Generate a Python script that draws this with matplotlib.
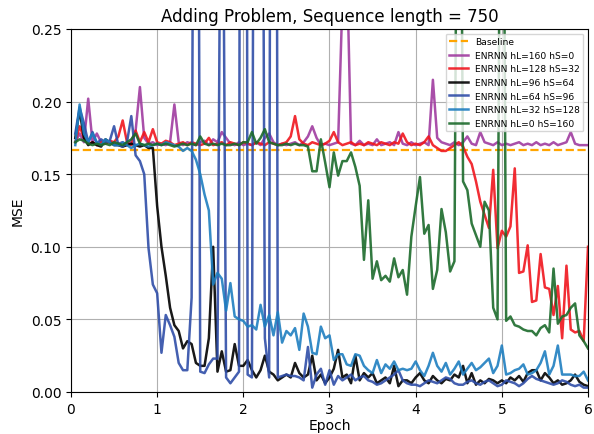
import numpy as np
import matplotlib
matplotlib.use("Agg")
import matplotlib.pyplot as plt

epochs = [round(0.05 * k, 2) for k in range(1, 121)]
baseline = 0.1667

purple = [0.172, 0.178, 0.172, 0.202, 0.172, 0.178, 0.172, 0.171, 0.172, 0.171,
          0.171, 0.172, 0.170, 0.173, 0.180, 0.210, 0.175, 0.171, 0.172, 0.170,
          0.171, 0.170, 0.172, 0.198, 0.172, 0.170, 0.172, 0.171, 0.170, 0.172,
          0.173, 0.170, 0.174, 0.172, 0.179, 0.175, 0.171, 0.170, 0.172, 0.170,
          0.171, 0.170, 0.172, 0.170, 0.175, 0.178, 0.172, 0.170, 0.171, 0.170,
          0.171, 0.172, 0.170, 0.172, 0.176, 0.183, 0.175, 0.170, 0.171, 0.170,
          0.171, 0.172, 0.270, 0.300, 0.171, 0.170, 0.173, 0.170, 0.171, 0.170,
          0.174, 0.170, 0.171, 0.172, 0.170, 0.179, 0.171, 0.170, 0.172, 0.170,
          0.171, 0.172, 0.170, 0.215, 0.175, 0.172, 0.171, 0.170, 0.172, 0.170,
          0.172, 0.176, 0.171, 0.170, 0.179, 0.172, 0.171, 0.170, 0.172, 0.170,
          0.171, 0.170, 0.171, 0.172, 0.170, 0.171, 0.170, 0.172, 0.170, 0.171,
          0.170, 0.172, 0.170, 0.171, 0.172, 0.179, 0.171, 0.170, 0.170, 0.170]

red = [0.172, 0.183, 0.175, 0.171, 0.172, 0.170, 0.172, 0.171, 0.173, 0.172,
       0.176, 0.187, 0.172, 0.170, 0.180, 0.172, 0.179, 0.172, 0.181, 0.172,
       0.171, 0.173, 0.172, 0.170, 0.171, 0.172, 0.170, 0.172, 0.171, 0.170,
       0.171, 0.175, 0.170, 0.171, 0.172, 0.170, 0.172, 0.171, 0.170, 0.172,
       0.171, 0.170, 0.172, 0.171, 0.170, 0.172, 0.171, 0.170, 0.171, 0.172,
       0.176, 0.190, 0.174, 0.171, 0.170, 0.172, 0.171, 0.170, 0.171, 0.173,
       0.179, 0.172, 0.170, 0.171, 0.172, 0.170, 0.171, 0.170, 0.172, 0.171,
       0.170, 0.172, 0.171, 0.170, 0.172, 0.171, 0.178, 0.172, 0.170, 0.171,
       0.170, 0.172, 0.176, 0.170, 0.168, 0.166, 0.166, 0.168, 0.170, 0.172,
       0.169, 0.162, 0.157, 0.145, 0.131, 0.122, 0.113, 0.153, 0.099, 0.111,
       0.107, 0.114, 0.154, 0.082, 0.083, 0.101, 0.062, 0.063, 0.095, 0.072,
       0.071, 0.053, 0.073, 0.037, 0.087, 0.043, 0.041, 0.042, 0.035, 0.100]

black = [0.175, 0.194, 0.175, 0.170, 0.172, 0.170, 0.169, 0.174, 0.172, 0.170,
         0.170, 0.169, 0.170, 0.171, 0.170, 0.169, 0.170, 0.168, 0.168, 0.128,
         0.100, 0.080, 0.058, 0.046, 0.042, 0.030, 0.035, 0.033, 0.020, 0.018,
         0.018, 0.037, 0.100, 0.014, 0.028, 0.014, 0.015, 0.033, 0.018, 0.018,
         0.022, 0.015, 0.010, 0.015, 0.025, 0.014, 0.012, 0.008, 0.010, 0.012,
         0.010, 0.020, 0.013, 0.010, 0.012, 0.025, 0.008, 0.012, 0.006, 0.010,
         0.016, 0.029, 0.010, 0.012, 0.006, 0.025, 0.008, 0.013, 0.010, 0.013,
         0.006, 0.008, 0.010, 0.006, 0.018, 0.004, 0.008, 0.008, 0.006, 0.010,
         0.013, 0.008, 0.006, 0.011, 0.008, 0.006, 0.009, 0.008, 0.012, 0.010,
         0.018, 0.006, 0.013, 0.005, 0.008, 0.006, 0.009, 0.008, 0.006, 0.008,
         0.006, 0.010, 0.008, 0.011, 0.007, 0.013, 0.015, 0.015, 0.008, 0.013,
         0.010, 0.006, 0.008, 0.005, 0.006, 0.008, 0.012, 0.007, 0.005, 0.004]

blue = [0.178, 0.196, 0.185, 0.172, 0.179, 0.171, 0.174, 0.172, 0.173, 0.183,
        0.170, 0.169, 0.172, 0.190, 0.163, 0.159, 0.150, 0.099, 0.074, 0.068,
        0.027, 0.053, 0.046, 0.038, 0.020, 0.015, 0.015, 0.065, 0.900, 0.014,
        0.013, 0.019, 0.023, 0.023, 0.500, 0.010, 0.006, 0.010, 0.014, 2.000,
        0.012, 0.010, 1.000, 0.800, 0.037, 0.010, 1.500, 0.010, 0.011, 0.012,
        0.011, 0.011, 0.010, 0.008, 0.031, 0.003, 0.012, 0.016, 0.005, 0.015,
        0.005, 0.011, 0.008, 0.010, 0.012, 0.008, 0.010, 0.011, 0.008, 0.007,
        0.005, 0.006, 0.008, 0.010, 0.012, 0.015, 0.008, 0.006, 0.005, 0.005,
        0.004, 0.006, 0.008, 0.007, 0.006, 0.008, 0.010, 0.009, 0.006, 0.005,
        0.005, 0.007, 0.008, 0.006, 0.005, 0.007, 0.008, 0.006, 0.004, 0.005,
        0.008, 0.007, 0.006, 0.004, 0.006, 0.009, 0.011, 0.009, 0.008, 0.007,
        0.006, 0.005, 0.006, 0.008, 0.007, 0.005, 0.004, 0.005, 0.003, 0.003]

lightblue = [0.170, 0.198, 0.178, 0.172, 0.178, 0.172, 0.170, 0.174, 0.172, 0.170,
             0.170, 0.172, 0.170, 0.168, 0.170, 0.171, 0.170, 0.169, 0.170, 0.171,
             0.170, 0.172, 0.171, 0.170, 0.169, 0.166, 0.168, 0.166, 0.160, 0.150,
             0.136, 0.125, 0.074, 0.082, 0.078, 0.056, 0.075, 0.052, 0.050, 0.049,
             0.045, 0.046, 0.043, 0.060, 0.045, 0.053, 0.039, 0.055, 0.034, 0.042,
             0.039, 0.044, 0.029, 0.054, 0.045, 0.027, 0.026, 0.045, 0.037, 0.039,
             0.022, 0.026, 0.026, 0.019, 0.018, 0.026, 0.025, 0.018, 0.015, 0.013,
             0.022, 0.013, 0.019, 0.016, 0.021, 0.015, 0.016, 0.015, 0.016, 0.021,
             0.015, 0.011, 0.018, 0.027, 0.018, 0.014, 0.020, 0.012, 0.016, 0.021,
             0.012, 0.016, 0.020, 0.015, 0.017, 0.020, 0.023, 0.013, 0.018, 0.032,
             0.012, 0.013, 0.015, 0.016, 0.019, 0.012, 0.013, 0.015, 0.020, 0.028,
             0.012, 0.018, 0.032, 0.012, 0.012, 0.012, 0.011, 0.011, 0.014, 0.008]

green = [0.172, 0.174, 0.173, 0.171, 0.170, 0.171, 0.170, 0.171, 0.170, 0.172,
         0.171, 0.170, 0.172, 0.174, 0.178, 0.171, 0.170, 0.171, 0.170, 0.171,
         0.170, 0.171, 0.170, 0.169, 0.170, 0.171, 0.170, 0.171, 0.170, 0.176,
         0.171, 0.170, 0.171, 0.170, 0.171, 0.170, 0.170, 0.171, 0.170, 0.172,
         0.172, 0.179, 0.171, 0.175, 0.181, 0.172, 0.171, 0.170, 0.170, 0.171,
         0.170, 0.171, 0.170, 0.170, 0.169, 0.152, 0.152, 0.174, 0.158, 0.141,
         0.165, 0.149, 0.159, 0.159, 0.165, 0.155, 0.142, 0.091, 0.132, 0.078,
         0.090, 0.077, 0.080, 0.076, 0.092, 0.079, 0.084, 0.067, 0.107, 0.128,
         0.148, 0.109, 0.115, 0.071, 0.084, 0.126, 0.110, 0.083, 0.090, 0.600,
         0.145, 0.139, 0.116, 0.108, 0.100, 0.131, 0.125, 0.058, 0.050, 0.600,
         0.049, 0.052, 0.046, 0.045, 0.043, 0.042, 0.042, 0.039, 0.044, 0.046,
         0.041, 0.085, 0.047, 0.052, 0.053, 0.058, 0.061, 0.039, 0.035, 0.030]

labels = ["ENRNN hL=160 hS=0", "ENRNN hL=128 hS=32", "ENRNN hL=96 hS=64",
          "ENRNN hL=64 hS=96", "ENRNN hL=32 hS=128", "ENRNN hL=0 hS=160"]
series = [purple, red, black, blue, lightblue, green]
colors = ["#a03ca0", "#f0161e", "#000000", "#2f4ea8", "#1f7fc0", "#1b6b2b"]

fig = plt.figure(figsize=(5.94, 4.35), dpi=100)
ax = fig.add_axes([0.1195, 0.0966, 0.8704, 0.8345])

ax.plot([0, 6], [baseline, baseline], linestyle="--", color="#ffa500", lw=1.6, label="Baseline")
for ys, lab, col in zip(series, labels, colors):
    ax.plot(epochs, ys, color=col, lw=1.8, alpha=0.9, label=lab)

ax.set_xlim(0, 6)
ax.set_ylim(0, 0.25)
ax.set_yticks([0.0, 0.05, 0.10, 0.15, 0.20, 0.25])
ax.set_yticklabels(["0.00", "0.05", "0.10", "0.15", "0.20", "0.25"])
ax.set_xticks([0, 1, 2, 3, 4, 5, 6])
ax.grid(True)
ax.set_title("Adding Problem, Sequence length = 750", fontsize=12)
ax.set_xlabel("Epoch", labelpad=2)
ax.set_ylabel("MSE")
ax.legend(loc="upper right", fontsize=6.6)

fig.savefig("out.png", dpi=100)
